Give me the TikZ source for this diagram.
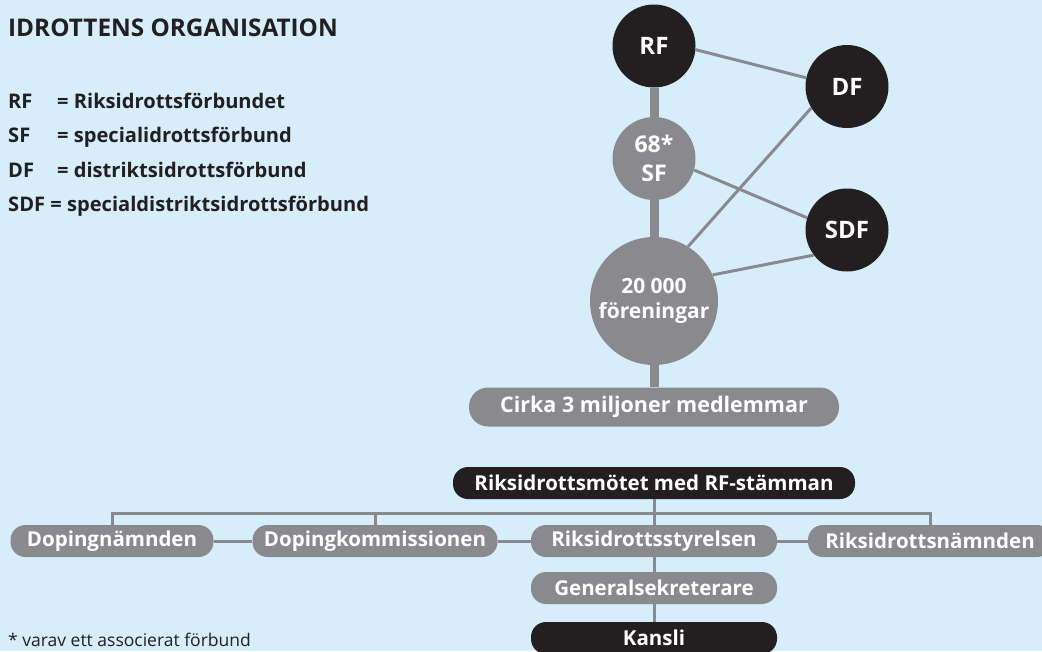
\documentclass[tikz,border=0pt]{standalone}
\usepackage{fontspec}
\setmainfont{Open Sans}
\definecolor{bg}{HTML}{D6EDFA}
\definecolor{ink}{HTML}{231F20}
\definecolor{gr}{HTML}{8A8A8E}
\begin{document}
\begin{tikzpicture}[x=1pt,y=-1pt,
  darkcirc/.style={circle, fill=ink, text=white, inner sep=0pt, minimum size=83pt,
    font=\bfseries\fontsize{24}{28}\selectfont},
  graycirc/.style={circle, fill=gr, text=white, inner sep=0pt, minimum size=83pt, align=center,
    font=\bfseries\fontsize{23}{29}\selectfont},
  pill/.style={rounded corners=15pt, minimum height=32pt, inner sep=0pt, text=white,
    font=\bfseries\fontsize{20.5}{24}\selectfont},
  graybox/.style={pill, fill=gr},
  darkbox/.style={pill, fill=ink},
  thinline/.style={draw=gr, line width=3pt},
  trunk/.style={draw=gr, line width=9pt},
  conn/.style={draw=gr, line width=3pt},
  legend/.style={anchor=base west, inner sep=0pt, text=ink, font=\bfseries\fontsize{20.1}{22}\selectfont}
]
\useasboundingbox[fill=bg] (0,0) rectangle (1042,651);

% title and legend
\node[anchor=base west, inner sep=0pt, text=ink, font=\bfseries\fontsize{24.3}{28}\selectfont] (title) at (8,36) {IDROTTENS ORGANISATION};
\node[legend] (a1) at (8,108) {RF};
\node[legend] (b1) at (57,108) {= Riksidrottsförbundet};
\node[legend] (a2) at (8,142.5) {SF};
\node[legend] (b2) at (57,142.5) {= specialidrottsförbund};
\node[legend] (a3) at (8,177) {DF};
\node[legend] (b3) at (57,177) {= distriktsidrottsförbund};
\node[legend] (b4) at (8,211) {SDF = specialdistriktsidrottsförbund};

% circles
\node[darkcirc] (rf) at (654,46) {RF};
\node[darkcirc] (df) at (847,86.5) {DF};
\node[graycirc] (sf) at (654,158.5) {68*\\SF};
\node[darkcirc] (sdf) at (847,230) {SDF};
\node[graycirc, minimum size=128pt, font=\bfseries\fontsize{21}{25}\selectfont] (fo) at (654,301) {20 000\\föreningar};
\node[graybox, minimum width=370pt, minimum height=39pt, rounded corners=19pt, font=\bfseries\fontsize{21.5}{24}\selectfont] (cirka) at (654,407) {Cirka 3 miljoner medlemmar};

\draw[trunk] (rf) -- (sf);
\draw[trunk] (sf) -- (fo);
\draw[trunk] (fo) -- (cirka);
\draw[thinline] (rf.-5) -- (df.168);
\draw[thinline] (df.211.6) -- (fo.58.7);
\draw[thinline] (sf.-16) -- (sdf.163);
\draw[thinline] (sdf.217.4) -- (fo.24.2);

% bottom organisation
\node[darkbox, minimum width=402pt] (rm) at (654,483) {Riksidrottsmötet med RF-stämman};
\node[graybox, minimum width=203pt] (dn) at (112,541) {Dopingnämnden};
\node[graybox, minimum width=245pt] (dk) at (375,541) {Dopingkommissionen};
\node[graybox, minimum width=246pt] (rs) at (654,541) {Riksidrottsstyrelsen};
\node[graybox, minimum width=244pt] (rn) at (930,541) {Riksidrottsnämnden};
\node[graybox, minimum width=246pt] (gs) at (654,588) {Generalsekreterare};
\node[darkbox, minimum width=246pt] (ka) at (654,638) {Kansli};

\coordinate (bar) at (654,513);
\draw[conn] (dn.north) -- (dn.north |- bar) -- (rn.north |- bar) -- (rn.north);
\draw[conn] (dk.north) -- (dk.north |- bar);
\draw[conn] (rm.south) -- (rs.north);
\draw[conn] (dn) -- (dk);
\draw[conn] (dk) -- (rs);
\draw[conn] (rs) -- (rn);
\draw[conn] (rs) -- (gs);
\draw[conn] (gs) -- (ka);

% footnote
\node[anchor=base west, inner sep=0pt, text=ink, font=\fontsize{17.5}{20}\selectfont] (fn) at (8,646) {* varav ett associerat förbund};
\end{tikzpicture}
\end{document}
